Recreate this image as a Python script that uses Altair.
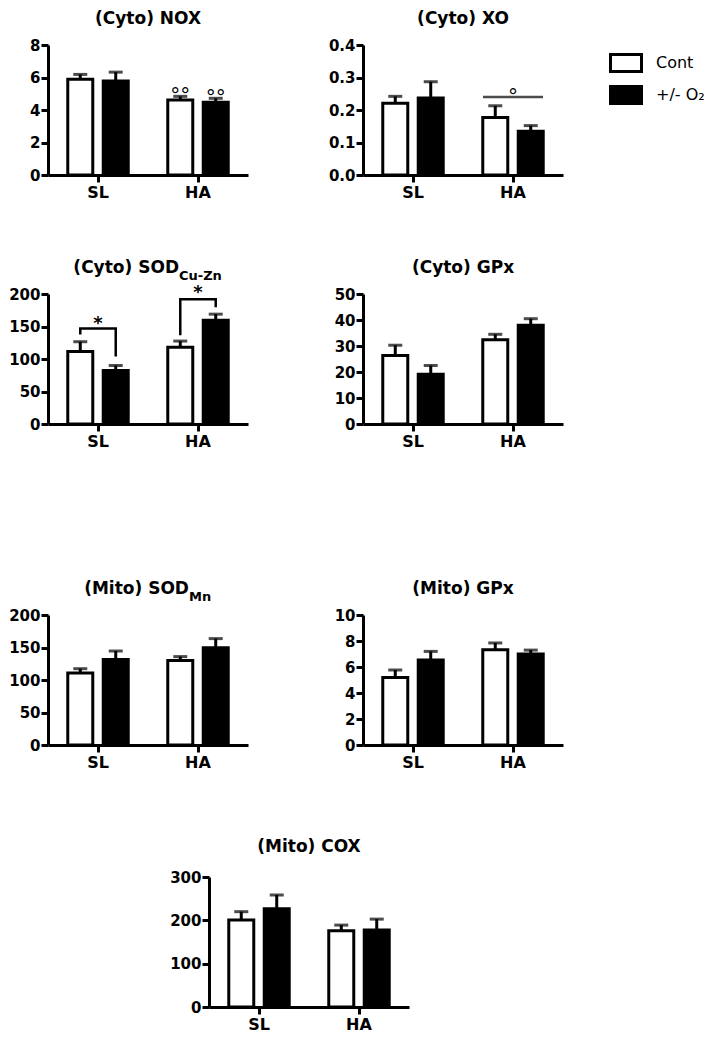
import altair as alt
import pandas as pd

FONT = "DejaVu Sans"
W, H = 200, 130

groups = ["SL", "HA"]
conds = ["Cont", "+/- O₂"]
# order of values: SL-Cont, SL-O2, HA-Cont, HA-O2
bar_group = ["SL", "SL", "HA", "HA"]
bar_cond = ["Cont", "+/- O₂", "Cont", "+/- O₂"]

nox_mean = [5.89, 5.79, 4.62, 4.48]
nox_sem = [0.30, 0.54, 0.22, 0.24]
nox_ticks = [0, 2, 4, 6, 8]

xo_mean = [0.221, 0.237, 0.177, 0.135]
xo_sem = [0.021, 0.050, 0.036, 0.017]
xo_ticks = [0.0, 0.1, 0.2, 0.3, 0.4]

sodcu_mean = [111.4, 82.5, 118.0, 159.5]
sodcu_sem = [15.2, 7.5, 9.6, 9.5]
sodcu_ticks = [0, 50, 100, 150, 200]

gpx_mean = [26.3, 19.1, 32.4, 38.0]
gpx_sem = [4.0, 3.4, 2.1, 2.5]
gpx_ticks = [0, 10, 20, 30, 40, 50]

sodmn_mean = [110.8, 131.5, 130.0, 149.6]
sodmn_sem = [6.6, 13.1, 6.0, 14.1]
sodmn_ticks = [0, 50, 100, 150, 200]

mgpx_mean = [5.2, 6.53, 7.32, 7.0]
mgpx_sem = [0.57, 0.67, 0.53, 0.30]
mgpx_ticks = [0, 2, 4, 6, 8, 10]

cox_mean = [200.5, 226.5, 176.0, 177.5]
cox_sem = [19.5, 32.1, 13.0, 25.3]
cox_ticks = [0, 100, 200, 300]

# annotations
nox_sym_group = ["HA", "HA"]
nox_sym_cond = ["Cont", "+/- O₂"]
nox_sym_y = [5.30, 5.18]

xo_line_group = ["HA"]
xo_line_y = [0.24]
xo_sym_y = [0.262]

br_id = ["SL", "SL", "SL", "SL", "HA", "HA", "HA", "HA"]
br_cond = ["Cont", "Cont", "+/- O₂", "+/- O₂", "Cont", "Cont", "+/- O₂", "+/- O₂"]
br_y = [137.7, 146.8, 146.8, 103.8, 136.7, 192.0, 192.0, 179.7]
br_ord = [0, 1, 2, 3, 0, 1, 2, 3]
star_group = ["SL", "HA"]
star_y = [160.0, 207.6]


def xenc():
    return alt.X("group:N", sort=groups,
                 scale=alt.Scale(domain=groups, paddingInner=0, paddingOuter=0),
                 axis=alt.Axis(title=None, labelAngle=0, labelFont=FONT, labelFontSize=16,
                               labelFontWeight="bold", labelColor="black", labelPadding=2,
                               domainColor="black", domainWidth=3, tickColor="black",
                               tickWidth=3, tickSize=7))


def xoff():
    return alt.XOffset("cond:N", sort=conds,
                       scale=alt.Scale(domain=conds, paddingInner=0.3, paddingOuter=0.56))


def yenc(field, ticks, fmt):
    return alt.Y(field, type="quantitative",
                 scale=alt.Scale(domain=[0, ticks[-1]], nice=False, zero=True),
                 axis=alt.Axis(title=None, values=ticks, format=fmt, grid=False,
                               labelFont=FONT, labelFontSize=15, labelFontWeight="bold",
                               labelColor="black", labelPadding=1, domainColor="black",
                               domainWidth=3, tickColor="black", tickWidth=3, tickSize=7))


def title_layers(main, sub=None, split=None, ty=-26):
    layers = []
    if sub is None:
        layers.append(alt.Chart(pd.DataFrame({"t": [main]})).mark_text(
            font=FONT, fontSize=17, fontWeight="bold", align="center", baseline="middle",
            color="black").encode(text="t:N", x=alt.value(W / 2), y=alt.value(ty)))
    else:
        layers.append(alt.Chart(pd.DataFrame({"t": [main]})).mark_text(
            font=FONT, fontSize=17, fontWeight="bold", align="right", baseline="middle",
            color="black").encode(text="t:N", x=alt.value(split), y=alt.value(ty)))
        layers.append(alt.Chart(pd.DataFrame({"t": [sub]})).mark_text(
            font=FONT, fontSize=13, fontWeight="bold", align="left", baseline="middle",
            color="black").encode(text="t:N", x=alt.value(split), y=alt.value(ty + 8)))
    return layers


def panel(means, sems, ticks, fmt, main, sub=None, split=None, legend=None, extra=None, ty=-26):
    df = pd.DataFrame({"group": bar_group, "cond": bar_cond, "mean": means,
                       "upper": [m + s for m, s in zip(means, sems)]})
    base = alt.Chart(df)
    bars = base.mark_bar(width=25, stroke="black", strokeWidth=3).encode(
        x=xenc(), xOffset=xoff(), y=yenc("mean", ticks, fmt),
        fill=alt.Fill("cond:N", sort=conds,
                      scale=alt.Scale(domain=conds, range=["white", "black"]),
                      legend=legend))
    rule = base.mark_rule(color="black", strokeWidth=3).encode(
        x=xenc(), xOffset=xoff(), y=yenc("mean", ticks, fmt), y2="upper:Q")
    cap = base.mark_tick(color="black", size=14, thickness=3).encode(
        x=xenc(), xOffset=xoff(), y=yenc("upper", ticks, fmt))
    layers = [bars, rule, cap]
    if extra:
        layers += extra(ticks, fmt)
    layers += title_layers(main, sub, split, ty)
    return alt.layer(*layers).properties(width=W, height=H)


def nox_extra(ticks, fmt):
    d = pd.DataFrame({"group": nox_sym_group, "cond": nox_sym_cond, "y": nox_sym_y,
                      "t": ["°°", "°°"]})
    return [alt.Chart(d).mark_text(font=FONT, fontSize=20, color="black", baseline="middle",
                                   dy=7).encode(
        x=xenc(), xOffset=xoff(), y=yenc("y", ticks, fmt), text="t:N")]


def xo_extra(ticks, fmt):
    d = pd.DataFrame({"group": xo_line_group, "y": xo_line_y})
    line = alt.Chart(d).mark_tick(color="black", size=60, thickness=2.5).encode(
        x=xenc(), y=yenc("y", ticks, fmt))
    d2 = pd.DataFrame({"group": ["HA"], "y": xo_sym_y, "t": ["°"]})
    sym = alt.Chart(d2).mark_text(font=FONT, fontSize=20, color="black", baseline="middle",
                                  dy=7).encode(
        x=xenc(), y=yenc("y", ticks, fmt), text="t:N")
    return [line, sym]


def sod_extra(ticks, fmt):
    d = pd.DataFrame({"id": br_id, "group": br_id, "cond": br_cond, "y": br_y, "ord": br_ord})
    line = alt.Chart(d).mark_line(color="black", strokeWidth=2.5).encode(
        x=xenc(), xOffset=xoff(), y=yenc("y", ticks, fmt), detail="id:N", order="ord:Q")
    d2 = pd.DataFrame({"group": star_group, "y": star_y, "t": ["*", "*"]})
    star = alt.Chart(d2).mark_text(font=FONT, fontSize=18, fontWeight="bold", color="black",
                                   baseline="middle", dy=4).encode(
        x=xenc(), y=yenc("y", ticks, fmt), text="t:N")
    return [line, star]


legend = alt.Legend(orient="none", legendX=246, legendY=1, title=None, padding=0,
                    symbolType="M-1,-0.55L1,-0.55L1,0.55L-1,0.55Z", symbolSize=961,
                    symbolStrokeColor="black", symbolStrokeWidth=3,
                    labelFont=FONT, labelFontSize=16, labelColor="black",
                    labelOffset=13, rowPadding=0)

p1 = panel(nox_mean, nox_sem, nox_ticks, "d", "(Cyto) NOX", extra=nox_extra)
p2 = panel(xo_mean, xo_sem, xo_ticks, ".1f", "(Cyto) XO", legend=legend, extra=xo_extra)
p3 = panel(sodcu_mean, sodcu_sem, sodcu_ticks, "d", "(Cyto) SOD", sub="Cu-Zn", split=131,
           extra=sod_extra)
p4 = panel(gpx_mean, gpx_sem, gpx_ticks, "d", "(Cyto) GPx")
p5 = panel(sodmn_mean, sodmn_sem, sodmn_ticks, "d", "(Mito) SOD", sub="Mn", split=141)
p6 = panel(mgpx_mean, mgpx_sem, mgpx_ticks, "d", "(Mito) GPx")
p7 = panel(cox_mean, cox_sem, cox_ticks, "d", "(Mito) COX", ty=-30)


def spacer(w, h):
    return alt.Chart(pd.DataFrame({"a": [0]})).mark_point(opacity=0, size=1).encode(
        x=alt.value(0), y=alt.value(0)).properties(width=w, height=h)


def ind(c):
    return c.resolve_scale(fill="independent").resolve_legend(fill="independent")


grid = ind(alt.concat(p1, p2, spacer(200, 58), spacer(200, 58),
                      p3, p4, spacer(200, 130), spacer(200, 130),
                      p5, p6, columns=2,
                      spacing=alt.RowColnumber(row=0, column=80)))
last = ind(alt.hconcat(spacer(121, 10), p7, spacing=0))
chart = ind(alt.vconcat(grid, last, spacing=68)).properties(
    padding={"left": 0, "top": 2, "right": 0, "bottom": 0},
    background="white",
).configure_view(stroke=None)

chart.save("out.html", embed_options={"renderer": "svg", "actions": False})
